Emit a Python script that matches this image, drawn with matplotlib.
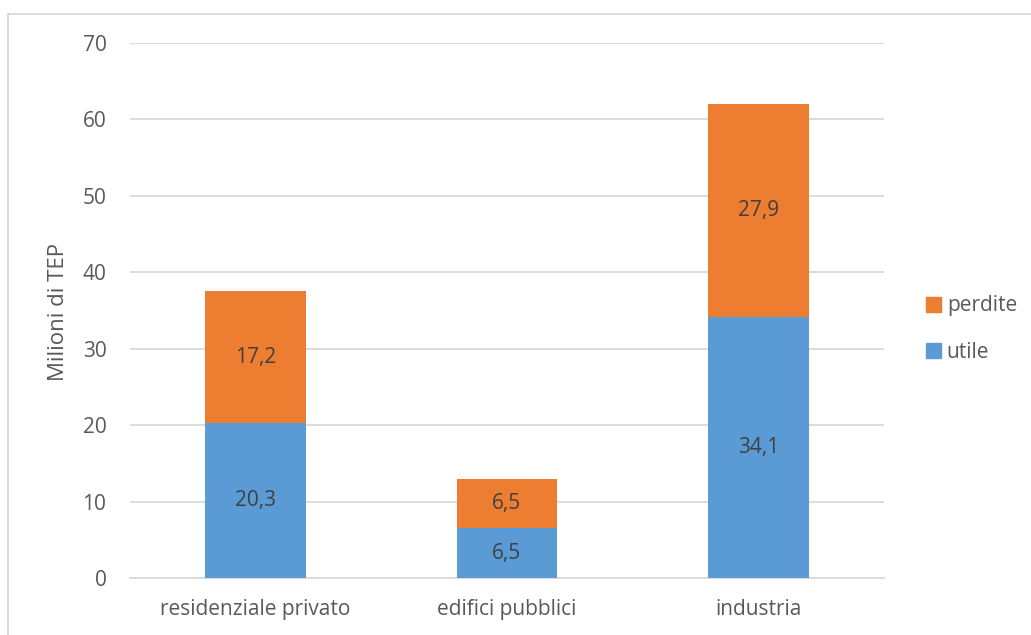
import matplotlib
matplotlib.use("Agg")
import matplotlib.pyplot as plt
from matplotlib.patches import Rectangle, Patch

plt.rcParams['font.family'] = ['Open Sans', 'DejaVu Sans']

categories = ["residenziale privato", "edifici pubblici", "industria"]
utile = [20.3, 6.5, 34.1]
perdite = [17.2, 6.5, 27.9]
y_ticks = [0, 10, 20, 30, 40, 50, 60, 70]

C_UTILE = "#5B9BD5"
C_PERDITE = "#ED7D31"
C_TEXT = "#595959"
C_LABEL = "#404040"
C_GRID = "#D9D9D9"
FS = 15

fig = plt.figure(figsize=(10.31, 6.35), dpi=100)
fig.patch.set_facecolor("white")

# outer chart frame
fig.add_artist(Rectangle((8 / 1031, -0.05), 1.1, (635 - 14) / 635 + 0.05,
                         transform=fig.transFigure, fill=False,
                         edgecolor=C_GRID, linewidth=1.3))

ax = fig.add_axes([130 / 1031, 1 - 578 / 635, 754 / 1031, 535 / 635])
x = list(range(len(categories)))
w = 0.4
ax.bar(x, utile, width=w, color=C_UTILE, zorder=3, label="utile")
ax.bar(x, perdite, width=w, bottom=utile, color=C_PERDITE, zorder=3, label="perdite")

for i in x:
    ax.text(i, utile[i] / 2, f"{utile[i]:.1f}".replace(".", ","),
            ha="center", va="center", fontsize=FS, color=C_LABEL, zorder=4)
    ax.text(i, utile[i] + perdite[i] / 2, f"{perdite[i]:.1f}".replace(".", ","),
            ha="center", va="center", fontsize=FS, color=C_LABEL, zorder=4)

ax.set_xlim(-0.5, 2.5)
ax.set_ylim(0, 70)
ax.set_yticks(y_ticks)
ax.set_yticklabels([str(t) for t in y_ticks], fontsize=FS, color=C_TEXT)
ax.set_xticks(x)
ax.set_xticklabels(categories, fontsize=FS, color=C_TEXT)
ax.tick_params(axis="both", length=0)
ax.tick_params(axis="y", pad=17)
ax.tick_params(axis="x", pad=15)
ax.yaxis.grid(True, color=C_GRID, linewidth=1.3, zorder=0)
for s in ["top", "right", "left"]:
    ax.spines[s].set_visible(False)
ax.spines["bottom"].set_color(C_GRID)
ax.spines["bottom"].set_linewidth(1.3)

fig.text(58 / 1031, 1 - 312 / 635, "Milioni di TEP", rotation=90,
         ha="center", va="center", fontsize=16, color=C_TEXT)

handles = [Patch(color=C_PERDITE), Patch(color=C_UTILE)]
fig.legend(handles, ["perdite", "utile"], loc="center left",
           bbox_to_anchor=(926 / 1031, 1 - 329 / 635), frameon=False,
           borderpad=0, borderaxespad=0,
           fontsize=FS, labelcolor=C_TEXT, handlelength=0.7, handleheight=0.7,
           handletextpad=0.3, labelspacing=1.2)

fig.savefig("out.png", dpi=100, facecolor="white")
